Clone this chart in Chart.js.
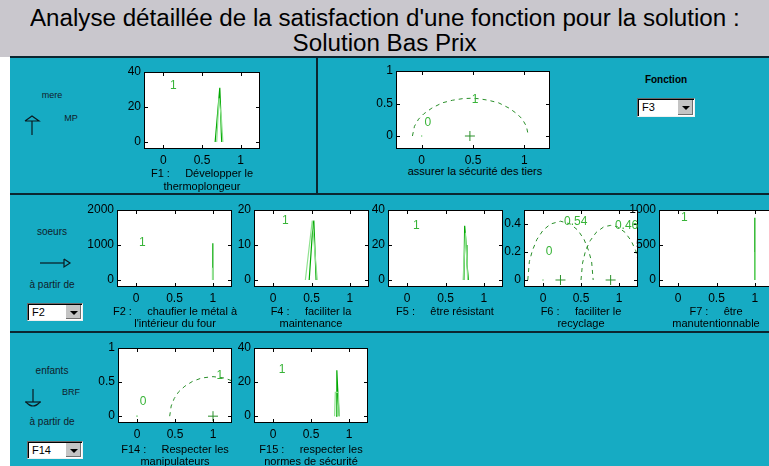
<!DOCTYPE html>
<html><head><meta charset="utf-8">
<script src="https://cdn.jsdelivr.net/npm/chart.js@4.4.0/dist/chart.umd.min.js"></script>
<style>
html,body{margin:0;padding:0;width:769px;height:466px;overflow:hidden;background:#fff;font-family:"Liberation Sans",Arial,sans-serif;}
#titlebar{position:absolute;left:0;top:0;width:769px;height:57px;background:#c9c7cd;}
.tl{position:absolute;left:0;width:769px;text-align:center;white-space:nowrap;}
.tl span{display:inline-block;font-family:"Liberation Sans Narrow","Arial Narrow","Liberation Sans",sans-serif;font-size:23px;color:#000;transform-origin:50% 50%;}
#panel{position:absolute;left:10px;top:57px;width:759px;height:409px;background:#16abc3;}
.hl{position:absolute;background:#0b2630;}
.cv{position:absolute;}
.xl{position:absolute;text-align:center;white-space:pre;font-size:11px;color:#000;transform:translateX(-50%);}
.lbl{position:absolute;white-space:pre;font-size:10px;color:#10202a;transform:translate(-50%,-50%);}
.dd{position:absolute;background:#fff;box-sizing:border-box;border:1px solid;border-color:#6a6a6a #f0f0f0 #f0f0f0 #6a6a6a;box-shadow:inset 1px 1px 0 #000;font-size:11px;}
.dd span{position:absolute;left:4px;top:2px;}
.dd .b{position:absolute;right:1px;top:1px;bottom:1px;width:15px;background:#c4c4c4;border-left:1px solid #fff;box-shadow:inset -1px -1px 0 #707070;}
.dd .b i{position:absolute;left:4px;top:6px;width:0;height:0;border-left:4px solid transparent;border-right:4px solid transparent;border-top:4px solid #000;}
svg{position:absolute;overflow:visible;}
</style></head>
<body>
<div id="titlebar"></div>
<div class="tl" style="top:5px"><span id="t1">Analyse détaillée de la satisfaction d'une fonction pour la solution :</span></div>
<div class="tl" style="top:30px"><span id="t2">Solution Bas Prix</span></div>
<div id="panel"></div>
<div class="hl" style="left:10px;top:56px;width:759px;height:2px"></div>
<div class="hl" style="left:316px;top:57px;width:2px;height:137px"></div>
<div class="hl" style="left:10px;top:193px;width:759px;height:2px"></div>
<div class="hl" style="left:10px;top:331px;width:759px;height:2px"></div>

<div class="lbl" style="left:52px;top:95px;font-size:9px">mere</div>
<div class="lbl" style="left:71px;top:118px;font-size:9px">MP</div>
<svg style="left:0;top:0" width="1" height="1"><polyline points="25,121 32,116 39,121 25,121" fill="none" stroke="#0a1a20" stroke-width="1.2"/><line x1="32" y1="121" x2="32" y2="135" stroke="#0a1a20" stroke-width="1.2"/></svg>

<div class="lbl" style="left:52px;top:231px">soeurs</div>
<svg style="left:0;top:0" width="1" height="1"><line x1="40" y1="263" x2="64" y2="263" stroke="#0a1a20" stroke-width="1.2"/><polyline points="64,259 70,263 64,267 64,259" fill="none" stroke="#0a1a20" stroke-width="1.2"/></svg>
<div class="lbl" style="left:52px;top:284px">à partir de</div>
<div class="dd" style="left:27px;top:303px;width:56px;height:18px"><span>F2</span><div class="b"><i></i></div></div>

<div class="lbl" style="left:52px;top:370px">enfants</div>
<div class="lbl" style="left:71px;top:392px;font-size:9px">BRF</div>
<svg style="left:0;top:0" width="1" height="1"><line x1="33" y1="389" x2="33" y2="402" stroke="#0a1a20" stroke-width="1.2"/><line x1="25" y1="402" x2="41" y2="402" stroke="#0a1a20" stroke-width="1.2"/><path d="M26,402 Q33,410 40,402" fill="none" stroke="#0a1a20" stroke-width="1.2"/></svg>
<div class="lbl" style="left:52px;top:421px">à partir de</div>
<div class="dd" style="left:27px;top:441px;width:56px;height:18px"><span>F14</span><div class="b"><i></i></div></div>

<div class="lbl" style="left:666px;top:79px;font-weight:bold;color:#000">Fonction</div>
<div class="dd" style="left:637px;top:98px;width:58px;height:19px"><span>F3</span><div class="b"><i></i></div></div>

<script>
// ---------- data ----------
const xTicks = [0, 0.5, 1];

const f1YTicks = [0, 20, 40];
const f1Dark  = [[0.67,0],[0.73,31],[0.74,20],[0.75,5],[0.755,0]];
const f1Light = [[0.69,0],[0.72,25],[0.75,14],[0.77,0]];
const f1Text  = [["1", 0.13, 32]];

const f3YTicks = [0, 0.5, 1];
const f3Arc = [[-0.09,0],[-0.07,0.15],[-0.03,0.26],[0.02,0.34],[0.1,0.43],[0.2,0.51],[0.3,0.55],[0.4,0.575],[0.475,0.58],[0.55,0.575],[0.65,0.55],[0.75,0.51],[0.85,0.43],[0.93,0.34],[0.98,0.26],[1.02,0.15],[1.04,0]];
const f3Plus = [[0.47,0]];
const f3Dot  = [[0,0]];
const f3Text = [["0", 0.06, 0.2], ["1", 0.52, 0.56]];

const f2YTicks = [0, 1000, 2000];
const f2Dark  = [[1.0,0],[1.0,1050]];
const f2Light = [[0.995,0],[0.995,350]];
const f2Text  = [["1", 0.08, 1060]];

const f4YTicks = [0, 10, 20];
const f4Light = [[0.42,0],[0.51,17],[0.575,0]];
const f4Dark  = [[0.47,0],[0.51,13],[0.53,17],[0.55,6],[0.56,0]];
const f4Text  = [["1", 0.16, 17]];

const f5YTicks = [0, 20, 40];
const f5Dark  = [[0.74,0],[0.75,31],[0.77,20],[0.78,9],[0.8,0]];
const f5Light = [[0.73,0],[0.76,27],[0.79,0]];
const f5Text  = [["1", 0.12, 31]];

const f6YTicks = [0, 0.2, 0.4];
const f6Arc1 = [[-0.2,0],[-0.18,0.13],[-0.14,0.21],[-0.08,0.29],[0,0.355],[0.1,0.4],[0.23,0.42],[0.36,0.4],[0.46,0.355],[0.54,0.29],[0.6,0.21],[0.64,0.13],[0.66,0]];
const f6Arc2 = [[0.5,0],[0.52,0.12],[0.56,0.21],[0.62,0.28],[0.7,0.34],[0.8,0.38],[0.89,0.39],[0.98,0.38],[1.08,0.34],[1.16,0.28],[1.22,0.21],[1.26,0.12],[1.28,0]];
const f6Plus = [[0.23,0],[0.89,0]];
const f6Dot  = [[0,0]];
const f6Text = [["0", 0.08, 0.2], ["0.54", 0.43, 0.42], ["0.46", 1.1, 0.39]];

const f7YTicks = [0, 500, 1000];
const f7Dark  = [[1.0,0],[1.0,890]];
const f7Light = [[1.005,0],[1.005,400]];
const f7Text  = [["1", 0.08, 886]];

const f14YTicks = [0, 0.5, 1];
const f14Arc = [[0.43,0],[0.45,0.15],[0.49,0.26],[0.55,0.36],[0.63,0.44],[0.73,0.51],[0.85,0.56],[1.0,0.58],[1.15,0.56],[1.27,0.51]];
const f14Plus = [[1.0,0]];
const f14Dot  = [[0,0]];
const f14Text = [["0", 0.08, 0.21], ["1", 1.09, 0.59]];

const f15YTicks = [0, 20, 40];
const f15Dark  = [[0.83,0],[0.84,27],[0.85,17],[0.87,0]];
const f15Light = [[0.81,0],[0.82,14],[0.86,14],[0.87,0]];
const f15Text  = [["1", 0.12, 27]];

// ---------- styling ----------
const DARK = '#00a800', LIGHT = '#90e290', DASH = '#2a8f2a', TXT = '#38b438';
Chart.defaults.font.family = '"Liberation Sans", Arial, sans-serif';
Chart.defaults.font.size = 12;
Chart.defaults.color = '#000';

const pts = a => a.map(([x,y]) => ({x, y}));
const solid = (a, c) => ({data: pts(a), showLine: true, borderColor: c, borderWidth: 1.2, pointRadius: 0, fill: false});
const dashed = a => ({data: pts(a), showLine: true, borderColor: DASH, borderWidth: 1, borderDash: [4,4], pointRadius: 0, fill: false});
const plus = a => ({data: pts(a), showLine: false, pointStyle: 'cross', pointRadius: 5, borderColor: DASH, borderWidth: 1, backgroundColor: DASH});
const dot = a => ({data: pts(a), showLine: false, pointStyle: 'rect', pointRadius: 0.8, borderColor: TXT, backgroundColor: TXT, borderWidth: 0});

const matlab = {
  id: 'matlab',
  beforeDraw(chart) {
    const a = chart.chartArea, c = chart.ctx;
    c.save(); c.fillStyle = '#fff';
    c.fillRect(a.left, a.top, a.right - a.left, a.bottom - a.top);
    c.restore();
  },
  afterDraw(chart, args, opts) {
    const a = chart.chartArea, c = chart.ctx, xs = chart.scales.x, ys = chart.scales.y;
    c.save();
    c.strokeStyle = '#000'; c.lineWidth = 1;
    c.strokeRect(Math.round(a.left) + 0.5, Math.round(a.top) + 0.5, Math.round(a.right - a.left) - 1, Math.round(a.bottom - a.top) - 1);
    c.beginPath();
    xs.ticks.forEach(t => {
      const p = Math.round(xs.getPixelForValue(t.value)) + 0.5;
      c.moveTo(p, a.bottom); c.lineTo(p, a.bottom - 4);
      c.moveTo(p, a.top); c.lineTo(p, a.top + 4);
    });
    ys.ticks.forEach(t => {
      const p = Math.round(ys.getPixelForValue(t.value)) + 0.5;
      c.moveTo(a.left, p); c.lineTo(a.left + 4, p);
      c.moveTo(a.right, p); c.lineTo(a.right - 4, p);
    });
    c.stroke();
    c.fillStyle = TXT; c.font = '12px "Liberation Sans", Arial, sans-serif';
    c.textAlign = 'center'; c.textBaseline = 'middle';
    (opts.texts || []).forEach(([s, x, y]) => c.fillText(s, xs.getPixelForValue(x), ys.getPixelForValue(y)));
    c.restore();
  }
};

const YW = 44, PT = 12, PR = 6, XH = 22;
function plot(box, yMin, yMax, yTicks, datasets, texts) {
  const cv = document.createElement('canvas');
  cv.className = 'cv';
  const W = YW + box.w + PR, H = PT + box.h + XH;
  cv.width = W; cv.height = H;
  cv.style.left = (box.x - YW) + 'px'; cv.style.top = (box.y - PT) + 'px';
  cv.style.width = W + 'px'; cv.style.height = H + 'px';
  document.body.appendChild(cv);
  new Chart(cv.getContext('2d'), {
    type: 'scatter',
    data: {datasets},
    options: {
      responsive: false, animation: false, devicePixelRatio: 1,
      layout: {padding: {top: PT, right: PR, left: 0, bottom: 0}},
      plugins: {legend: {display: false}, tooltip: {enabled: false}, matlab: {texts}},
      scales: {
        x: {type: 'linear', min: -0.25, max: 1.25,
            afterBuildTicks: s => { s.ticks = xTicks.map(v => ({value: v})); },
            afterFit: s => { s.height = XH; },
            grid: {display: false, drawTicks: false}, border: {display: false},
            ticks: {padding: 4, color: '#000', callback: v => String(v)}},
        y: {type: 'linear', min: yMin, max: yMax,
            afterBuildTicks: s => { s.ticks = yTicks.map(v => ({value: v})); },
            afterFit: s => { s.width = YW; },
            grid: {display: false, drawTicks: false}, border: {display: false},
            ticks: {padding: 3, color: '#000', callback: v => String(v)}}
      }
    },
    plugins: [matlab]
  });
}

plot({x:144, y:72, w:116, h:77}, -4, 40, f1YTicks, [solid(f1Light, LIGHT), solid(f1Dark, DARK)], f1Text);
plot({x:396, y:71, w:154, h:78}, -0.2, 1, f3YTicks, [dashed(f3Arc), plus(f3Plus), dot(f3Dot)], f3Text);
plot({x:117, y:210, w:115, h:77}, -200, 2000, f2YTicks, [solid(f2Light, LIGHT), solid(f2Dark, DARK)], f2Text);
plot({x:254, y:210, w:115, h:77}, -2, 20, f4YTicks, [solid(f4Light, LIGHT), solid(f4Dark, DARK)], f4Text);
plot({x:388, y:210, w:115, h:77}, -4, 40, f5YTicks, [solid(f5Light, LIGHT), solid(f5Dark, DARK)], f5Text);
plot({x:524, y:210, w:114, h:77}, -0.05, 0.5, f6YTicks, [dashed(f6Arc1), dashed(f6Arc2), plus(f6Plus), dot(f6Dot)], f6Text);
plot({x:659, y:210, w:115, h:77}, -100, 1000, f7YTicks, [solid(f7Light, LIGHT), solid(f7Dark, DARK)], f7Text);
plot({x:118, y:348, w:114, h:75}, -0.1, 1, f14YTicks, [dashed(f14Arc), plus(f14Plus), dot(f14Dot)], f14Text);
plot({x:254, y:348, w:114, h:75}, -4, 40, f15YTicks, [solid(f15Light, LIGHT), solid(f15Dark, DARK)], f15Text);

// ---------- axis captions ----------
function xl(cx, top, lh, text, extra) {
  const d = document.createElement('div');
  d.className = 'xl';
  d.style.left = cx + 'px'; d.style.top = top + 'px'; d.style.lineHeight = lh + 'px';
  if (extra) Object.assign(d.style, extra);
  d.textContent = text;
  document.body.appendChild(d);
}
xl(202, 167, 13, "F1 :     Développer le\nthermoplongeur");
xl(475, 165, 12, "assurer la sécurité des tiers", {background: '#16abc3', padding: '0 6px'});
xl(175, 306, 11.7, "F2 :     chaufier le métal à\nl'intérieur du four");
xl(311, 306, 11.7, "F4 :     faciliter la\nmaintenance");
xl(445, 306, 11.7, "F5 :     être résistant");
xl(581, 306, 11.7, "F6 :     faciliter le\nrecyclage");
xl(716, 306, 11.7, "F7 :     être\nmanutentionnable");
xl(175, 444, 11.7, "F14 :     Respecter les\nmanipulateurs");
xl(311, 444, 11.7, "F15 :     respecter les\nnormes de sécurité");

// title fit
const t1 = document.getElementById('t1'), t2 = document.getElementById('t2');
const k = 710 / t1.offsetWidth;
t1.style.transform = 'scaleX(' + k + ')';
t2.style.transform = 'scaleX(' + k + ')';
</script>
</body></html>
